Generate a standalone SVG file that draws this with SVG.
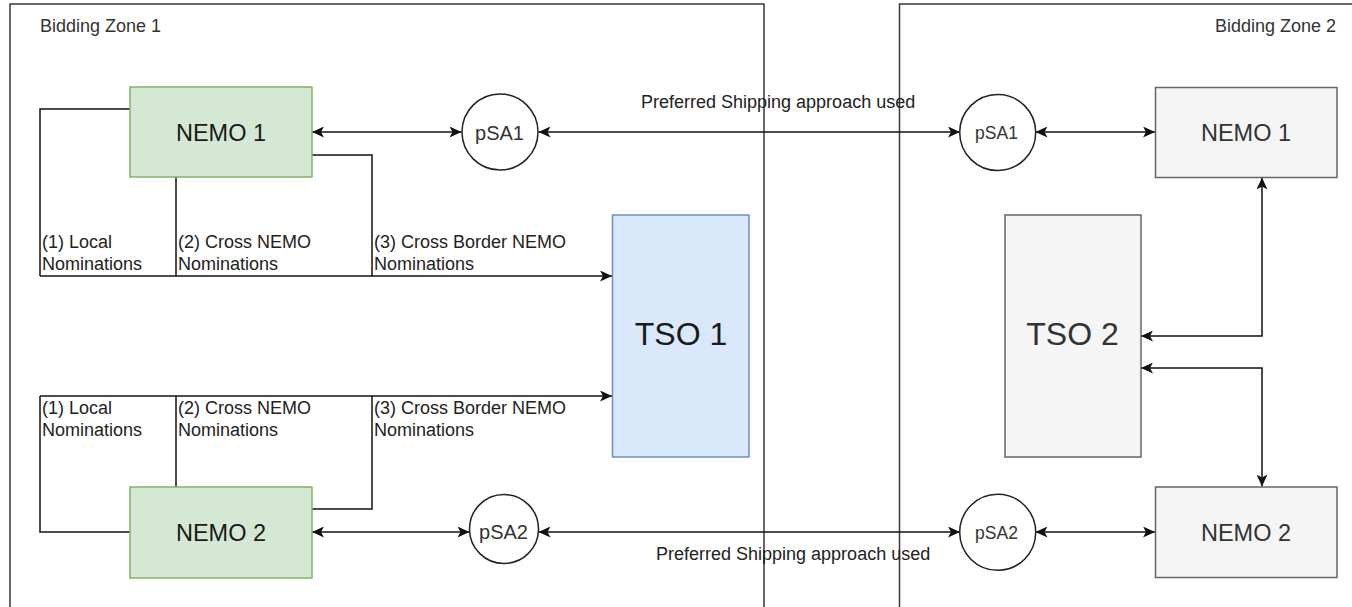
<svg xmlns="http://www.w3.org/2000/svg" width="1352" height="607" viewBox="0 0 1352 607">
<style>
  .frame{fill:none;stroke:#36393d;stroke-width:1.5}
  .edge{fill:none;stroke:#111;stroke-width:1.5}
  .arr{marker-start:url(#ah);marker-end:url(#ah)}
  .arrE{marker-end:url(#ah)}
  .t{font-family:"Liberation Sans",Arial,sans-serif;fill:#333}
  .lbl{font-size:18px;fill:#222}
  .zone{font-size:18px;fill:#333}
  .green{fill:#d5e8d4;stroke:#82b366;stroke-width:1.5}
  .blue{fill:#dae8fc;stroke:#6c8ebf;stroke-width:1.5}
  .gray{fill:#f5f5f5;stroke:#666;stroke-width:1.5}
  .circ{fill:#fff;stroke:#222;stroke-width:1.5}
</style>
<defs>
  <marker id="ah" viewBox="0 0 12 11" refX="12" refY="5.5" markerWidth="12" markerHeight="11" markerUnits="userSpaceOnUse" orient="auto-start-reverse">
    <path d="M0,0 L12,5.5 L0,11 L3,5.5 Z" fill="#111"/>
  </marker>
</defs>
<rect width="1352" height="607" fill="#fff"/>

<g id="zone1">
  <rect class="frame" x="10" y="4" width="754" height="620"/>
  <text class="t zone" x="40" y="32">Bidding Zone 1</text>
</g>
<g id="zone2">
  <rect class="frame" x="899.5" y="4" width="480" height="620"/>
  <text class="t zone" x="1336" y="32" text-anchor="end">Bidding Zone 2</text>
</g>

<g id="connectors">
  <!-- zone 1 upper nominations -->
  <path class="edge" d="M130,109 H40 V276"/>
  <path class="edge" d="M176,177 V276"/>
  <path class="edge" d="M312,155 H372 V276"/>
  <path class="edge arrE" d="M40,276 H612"/>
  <!-- zone 1 lower nominations -->
  <path class="edge" d="M130,532 H40 V396"/>
  <path class="edge" d="M176,487 V396"/>
  <path class="edge" d="M312,509 H372 V396"/>
  <path class="edge arrE" d="M40,396 H612"/>
  <!-- pSA connectors -->
  <path class="edge arr" d="M312,132 H461.5"/>
  <path class="edge arr" d="M538.5,132 H960"/>
  <path class="edge arr" d="M1035.5,132 H1155"/>
  <path class="edge arr" d="M312,532 H469.5"/>
  <path class="edge arr" d="M538.5,532 H960"/>
  <path class="edge arr" d="M1035.5,532 H1155"/>
  <!-- TSO 2 connectors -->
  <path class="edge arr" d="M1141,336 H1262 V177.5"/>
  <path class="edge arr" d="M1141,368 H1262 V486.5"/>
  <text class="t lbl" x="641" y="108">Preferred Shipping approach used</text>
  <text class="t lbl" x="656" y="560">Preferred Shipping approach used</text>
  <text class="t lbl" x="42" y="248">(1) Local</text>
  <text class="t lbl" x="42" y="270">Nominations</text>
  <text class="t lbl" x="178" y="248">(2) Cross NEMO</text>
  <text class="t lbl" x="178" y="270">Nominations</text>
  <text class="t lbl" x="374" y="248">(3) Cross Border NEMO</text>
  <text class="t lbl" x="374" y="270">Nominations</text>
  <text class="t lbl" x="42" y="414">(1) Local</text>
  <text class="t lbl" x="42" y="436">Nominations</text>
  <text class="t lbl" x="178" y="414">(2) Cross NEMO</text>
  <text class="t lbl" x="178" y="436">Nominations</text>
  <text class="t lbl" x="374" y="414">(3) Cross Border NEMO</text>
  <text class="t lbl" x="374" y="436">Nominations</text>
</g>

<g id="nemo1-z1">
  <rect class="green" x="130" y="87" width="182" height="90"/>
  <text class="t" x="221" y="141" font-size="23.5" text-anchor="middle" fill="#1a1a1a" style="fill:#1a1a1a">NEMO 1</text>
</g>
<g id="nemo2-z1">
  <rect class="green" x="130" y="487" width="182" height="91"/>
  <text class="t" x="221" y="541" font-size="23.5" text-anchor="middle" style="fill:#1a1a1a">NEMO 2</text>
</g>
<g id="tso1">
  <rect class="blue" x="612.5" y="215" width="136.5" height="242"/>
  <text class="t" x="681" y="345" font-size="32" text-anchor="middle" style="fill:#1a1a1a">TSO 1</text>
</g>
<g id="psa1-z1">
  <circle class="circ" cx="500" cy="132" r="38"/>
  <text class="t" x="499.5" y="140" font-size="20" text-anchor="middle">pSA1</text>
</g>
<g id="psa2-z1">
  <circle class="circ" cx="504" cy="529" r="34.5"/>
  <text class="t" x="503.5" y="539" font-size="20" text-anchor="middle">pSA2</text>
</g>
<g id="psa1-z2">
  <circle class="circ" cx="997.7" cy="132.5" r="38"/>
  <text class="t" x="996.5" y="138.5" font-size="17.5" text-anchor="middle">pSA1</text>
</g>
<g id="psa2-z2">
  <circle class="circ" cx="997.7" cy="532.3" r="38"/>
  <text class="t" x="996.5" y="539" font-size="17.5" text-anchor="middle">pSA2</text>
</g>
<g id="nemo1-z2">
  <rect class="gray" x="1155.5" y="87.5" width="181.5" height="90"/>
  <text class="t" x="1246" y="141" font-size="23.5" text-anchor="middle">NEMO 1</text>
</g>
<g id="tso2">
  <rect class="gray" x="1005" y="215" width="136" height="242"/>
  <text class="t" x="1072.5" y="345" font-size="32" text-anchor="middle">TSO 2</text>
</g>
<g id="nemo2-z2">
  <rect class="gray" x="1155.5" y="487" width="181.5" height="90.5"/>
  <text class="t" x="1246" y="541" font-size="23.5" text-anchor="middle">NEMO 2</text>
</g>
</svg>
